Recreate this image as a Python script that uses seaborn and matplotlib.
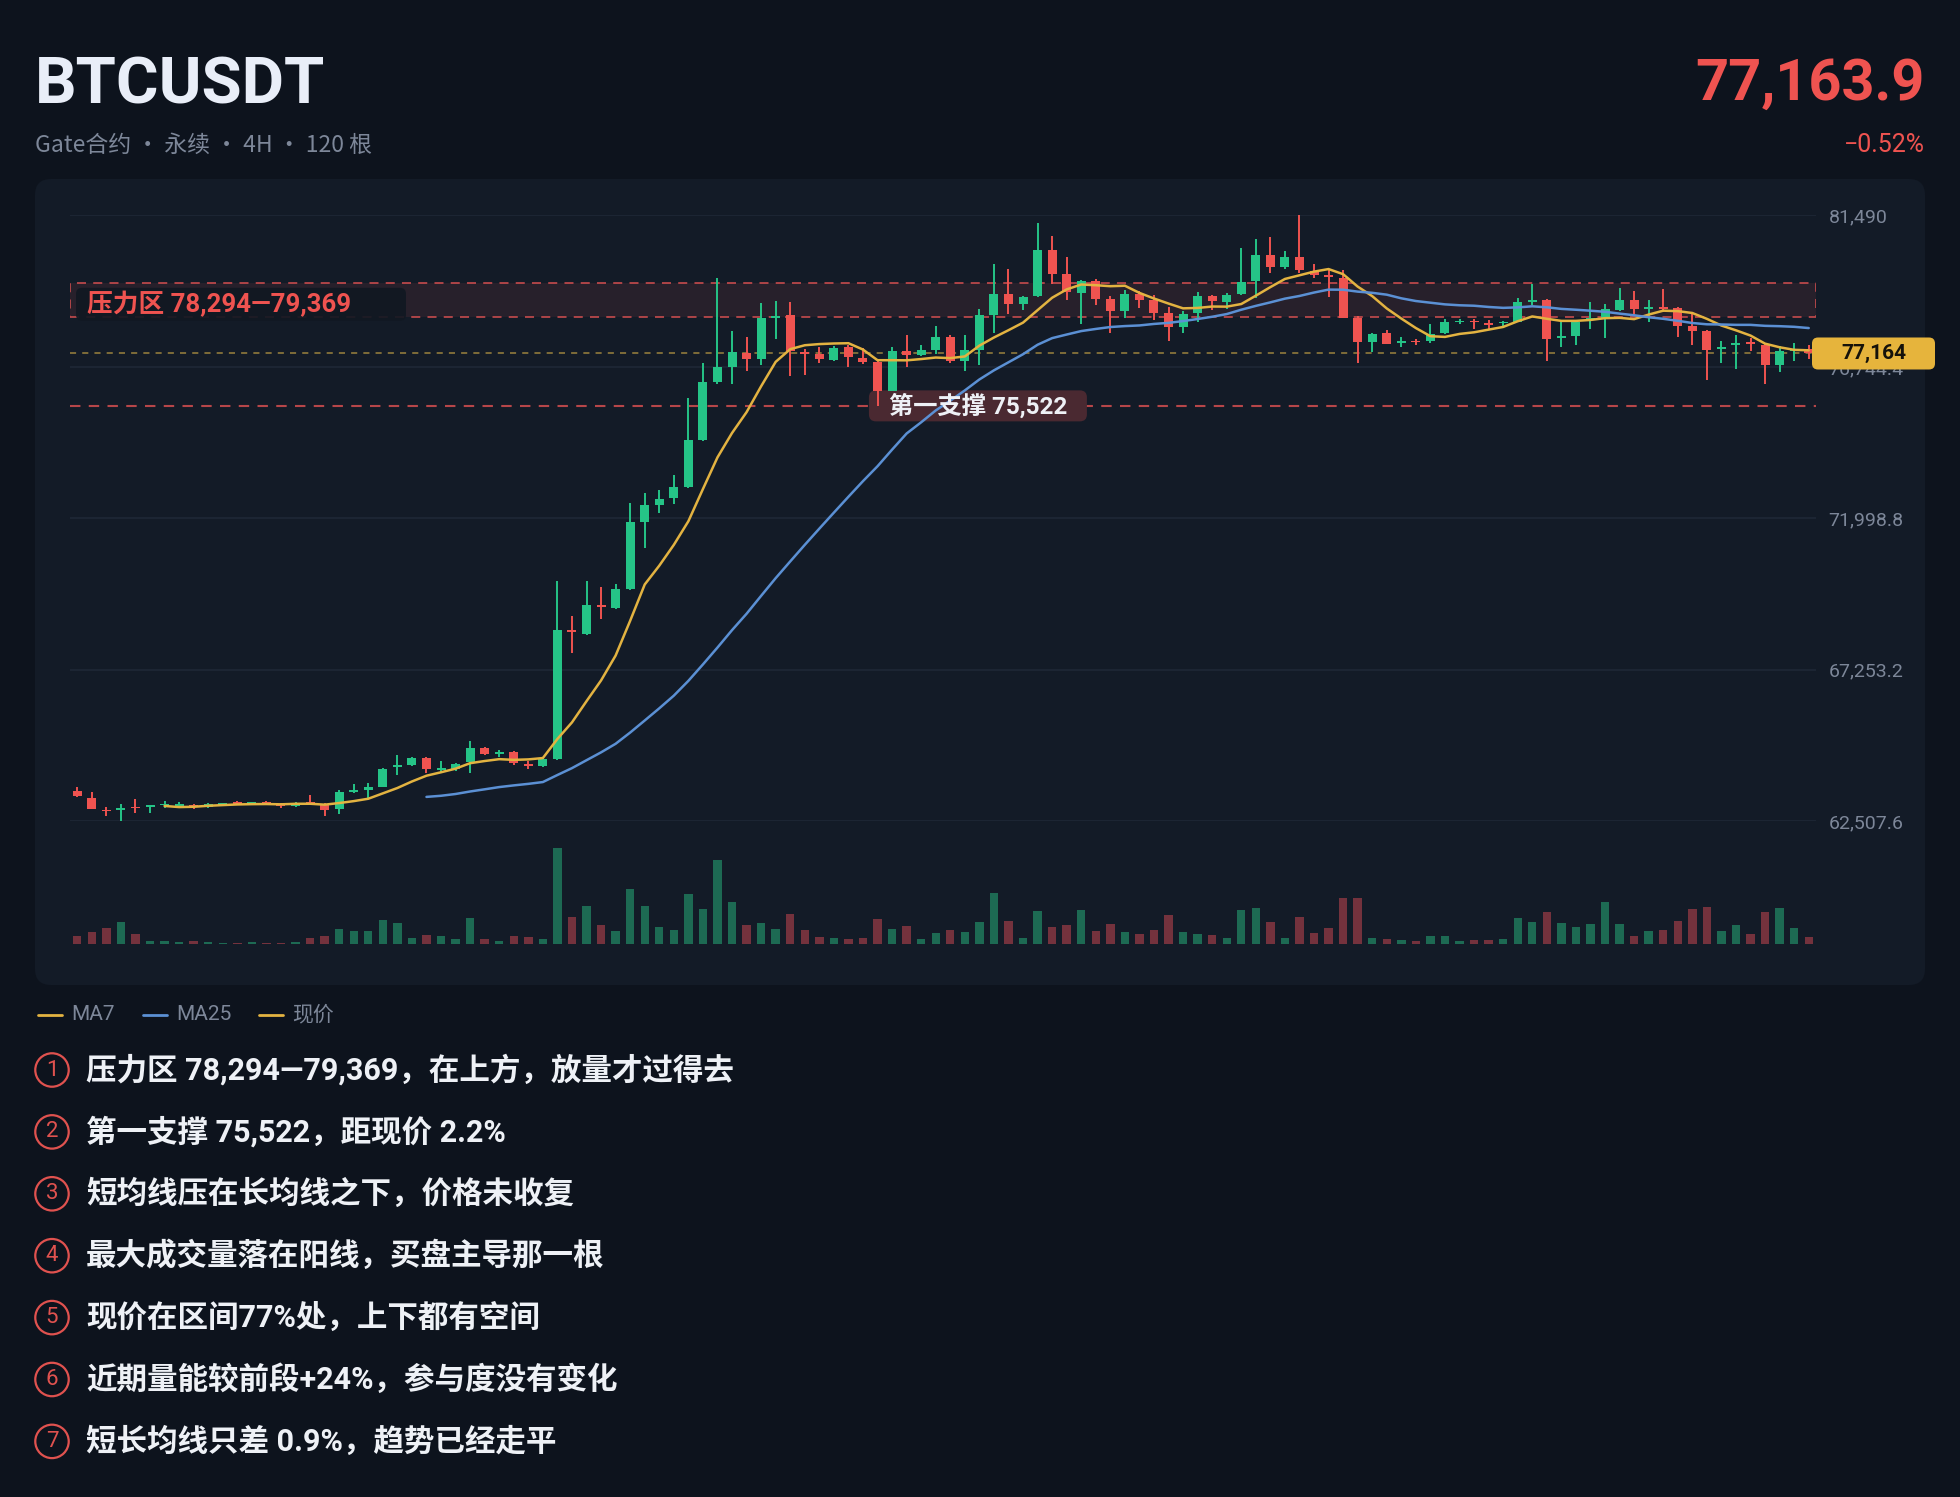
import numpy as np
import pandas as pd
import matplotlib
matplotlib.use("Agg")
import matplotlib.pyplot as plt
import seaborn as sns
from matplotlib.patches import FancyBboxPatch, Rectangle
from matplotlib.lines import Line2D
from matplotlib.transforms import IdentityTransform

# ---- data ----
symbol = "BTCUSDT"
subtitle = "Gate合约 · 永续 · 4H · 120 根"
last_price_text = "77,163.9"
change_text = "\u22120.52%"

opens = [63456, 63239, 62868, 62868, 62957, 62957, 63008, 62970, 63021, 62957,
         63021, 63098, 63047, 63085, 63021, 62970, 63085, 63047, 62893, 63405,
         63494, 63584, 64198, 64262, 64479, 64121, 64134, 64351, 64786, 64607,
         64671, 64287, 64224, 64453, 68483, 68380, 69276, 69173, 69787, 71872,
         72409, 72627, 72985, 74455, 76284, 76732, 77180, 76988, 78292, 78369,
         77218, 77141, 76962, 77372, 77026, 76911, 76003, 77244, 77116, 77282,
         77691, 76924, 77269, 78369, 79034, 78715, 78970, 80416, 79648, 79060,
         79444, 78881, 78497, 79034, 78843, 78420, 77986, 78420, 78971, 78778,
         79034, 79444, 80250, 79866, 80186, 79738, 79635, 79546, 78292, 77525,
         77819, 77500, 77563, 77563, 77819, 78139, 78190, 78101, 78113, 78165,
         78778, 78830, 77653, 77717, 78216, 78267, 78523, 78843, 78548, 78625,
         78587, 78037, 77883, 77308, 77436, 77525, 77436, 76796, 77244, 77295]
highs = [63558, 63430, 62957, 63047, 63200, 63021, 63137, 63098, 63047, 63072,
         63085, 63124, 63085, 63124, 63072, 63098, 63328, 63072, 63494, 63661,
         63712, 64172, 64582, 64505, 64518, 64390, 64326, 65016, 64838, 64748,
         64710, 64377, 64479, 70043, 68930, 70043, 69851, 69953, 72473, 72806,
         72895, 73343, 75760, 76860, 79546, 77858, 77666, 78740, 78817, 78778,
         77308, 77372, 77398, 77436, 77346, 76937, 77372, 77730, 77436, 78011,
         77730, 77755, 78548, 79968, 79802, 78970, 81247, 80863, 80185, 79482,
         79508, 78958, 79162, 79137, 79009, 78625, 78497, 79098, 79009, 79060,
         80467, 80761, 80825, 80378, 81490, 79955, 79802, 79776, 78331, 77819,
         77909, 77691, 77627, 78075, 78241, 78241, 78241, 78203, 78190, 78906,
         79354, 78868, 78139, 78165, 78778, 78715, 79226, 79137, 78843, 79188,
         78625, 78395, 77909, 77564, 77730, 77653, 77474, 77397, 77500, 77436]
lows = [63250, 62880, 62663, 62510, 62765, 62765, 62919, 62957, 62893, 62919,
        62983, 62995, 62995, 63008, 62919, 62957, 63021, 62663, 62727, 63380,
        63239, 63559, 63942, 64236, 64006, 64044, 64070, 64006, 64582, 64518,
        64262, 64134, 64198, 64428, 67779, 68342, 68841, 69148, 69761, 71079,
        72153, 72434, 72959, 74430, 76220, 76195, 76604, 76796, 77627, 76450,
        76502, 76860, 76937, 76732, 76834, 75517, 75978, 76732, 77090, 77141,
        76860, 76630, 76796, 77819, 78395, 78523, 78932, 79354, 78842, 78075,
        78676, 77819, 78267, 78587, 78203, 77563, 77819, 78139, 78523, 78548,
        78996, 78906, 79674, 79828, 79674, 79546, 78945, 78267, 76860, 77218,
        77448, 77372, 77436, 77500, 77781, 78075, 77947, 77947, 78037, 78139,
        78676, 76924, 77372, 77436, 77947, 77653, 78497, 78395, 78139, 78459,
        77691, 77436, 76348, 76860, 76668, 77244, 76195, 76579, 76924, 76988]
closes = [63277, 62893, 62817, 62919, 62906, 63008, 63034, 63034, 62957, 63034,
          63072, 63047, 63072, 63060, 62970, 63072, 63047, 62868, 63405, 63494,
          63584, 64147, 64249, 64479, 64134, 64160, 64287, 64786, 64620, 64658,
          64326, 64236, 64453, 68483, 68419, 69276, 69212, 69787, 71872, 72409,
          72614, 72985, 74455, 76284, 76732, 77218, 76988, 78292, 78343, 77244,
          77141, 76988, 77346, 77052, 76898, 76003, 77244, 77116, 77268, 77678,
          76924, 77269, 78369, 79034, 78715, 78932, 80416, 79648, 79098, 79444,
          78881, 78497, 79034, 78843, 78420, 77986, 78395, 78971, 78804, 79009,
          79418, 80250, 79866, 80186, 79776, 79610, 79571, 78292, 77525, 77781,
          77474, 77563, 77525, 77781, 78139, 78177, 78139, 78062, 78152, 78778,
          78830, 77627, 77717, 78139, 78267, 78548, 78843, 78548, 78625, 78574,
          78037, 77858, 77269, 77372, 77500, 77474, 76796, 77244, 77295, 77164]
volume = [25, 35, 47, 65, 29, 9, 9, 6, 8, 5,
          2, 4, 5, 2, 4, 5, 17, 24, 44, 38,
          39, 71, 64, 19, 28, 25, 16, 77, 14, 10,
          23, 20, 16, 287, 80, 115, 57, 39, 164, 115,
          50, 41, 149, 106, 251, 125, 58, 64, 44, 89,
          41, 21, 17, 15, 17, 74, 44, 55, 16, 32,
          41, 35, 65, 152, 68, 17, 99, 50, 56, 103,
          40, 59, 35, 31, 41, 86, 37, 31, 26, 18,
          103, 109, 65, 19, 82, 32, 47, 139, 139, 19,
          16, 11, 10, 25, 23, 9, 13, 11, 14, 77,
          65, 95, 64, 52, 61, 125, 60, 24, 40, 41,
          69, 104, 111, 38, 56, 31, 97, 107, 47, 22]

y_ticks = [62507.6, 67253.2, 71998.8, 76744.4, 81490.0]
y_tick_labels = ["62,507.6", "67,253.2", "71,998.8", "76,744.4", "81,490"]
resist_lo, resist_hi = 78294, 79369
support = 75522
last_price = 77163.9
notes = [
    "压力区 78,294—79,369，在上方，放量才过得去",
    "第一支撑 75,522，距现价 2.2%",
    "短均线压在长均线之下，价格未收复",
    "最大成交量落在阳线，买盘主导那一根",
    "现价在区间77%处，上下都有空间",
    "近期量能较前段+24%，参与度没有变化",
    "短长均线只差 0.9%，趋势已经走平",
]

# ---- colours ----
BG = "#0d131d"
CARD = "#131b27"
GREEN = "#25c487"
RED = "#ef5350"
VGREEN = "#1d6a53"
VRED = "#74323d"
YELLOW = "#e3b341"
BLUE = "#5b90d4"
GRID = "#1f2937"
MUTED = "#7d8799"
TEXT = "#eef1f6"

df = pd.DataFrame({"idx": np.arange(len(closes)), "open": opens, "high": highs,
                   "low": lows, "close": closes, "volume": volume})
df["dir"] = np.where(df["close"] >= df["open"], "up", "down")
df["ma7"] = df["close"].rolling(7).mean()
df["ma25"] = df["close"].rolling(25).mean()
n = len(df)

sns.set_theme(style="dark", rc={"axes.facecolor": "none", "figure.facecolor": BG})
# Latin glyphs in Roboto, Chinese falls through to Noto Sans CJK
plt.rcParams["font.family"] = ["Roboto", "Noto Sans CJK SC", "DejaVu Sans"]

W, H = 1960, 1497
fig = plt.figure(figsize=(W / 100, H / 100), dpi=100, facecolor=BG)


def fx(px):
    return px / W


def fy(py):
    return 1 - py / H


# chart card
card = FancyBboxPatch((35, H - 985), 1890, 806, boxstyle="round,pad=0,rounding_size=16",
                      fc=CARD, ec="none", transform=IdentityTransform(), zorder=-5)
fig.add_artist(card)

# ---- price panel ----
ax = fig.add_axes([fx(70), fy(821), fx(1746), (821 - 215.5) / H])
for s in ax.spines.values():
    s.set_visible(False)

# resistance zone and reference lines
zone = Rectangle((-0.5, resist_lo), n, resist_hi - resist_lo, fc=(0.88, 0.32, 0.32, 0.10),
                 ec=(0.88, 0.32, 0.32, 0.8), ls=(0, (5, 4)), lw=1.3, zorder=1)
ax.add_patch(zone)
ax.axhline(support, color="#e05252", alpha=0.8, ls=(0, (5, 4)), lw=1.5, zorder=1)
ax.axhline(last_price, color="#c9a646", alpha=0.75, ls=(0, (4, 4)), lw=1.1, zorder=1)

# candles
idx = df["idx"].to_numpy()
o = df["open"].to_numpy()
c = df["close"].to_numpy()
col = np.where(c >= o, GREEN, RED)
ax.vlines(idx, df["low"], df["high"], colors=col, lw=1.4, zorder=3)
body_h = np.maximum(np.abs(c - o), 45)
ax.bar(idx, body_h, bottom=np.minimum(o, c), width=0.62, color=col, lw=0, zorder=4)

sns.lineplot(data=df, x="idx", y="ma7", color=YELLOW, lw=1.8, ax=ax, zorder=5)
sns.lineplot(data=df, x="idx", y="ma25", color=BLUE, lw=1.8, ax=ax, zorder=5)
ax.set_xlabel("")
ax.set_ylabel("")
ax.set_xlim(-0.5, n - 0.5)
ax.set_ylim(y_ticks[0], y_ticks[-1])
ax.set_yticks(y_ticks)
ax.set_yticklabels(y_tick_labels)
ax.yaxis.tick_right()
ax.tick_params(axis="y", length=0, pad=9, labelcolor=MUTED, labelsize=14)
ax.set_xticks([])
ax.grid(axis="y", color=GRID, lw=1.1)
ax.grid(axis="x", visible=False)

# labels on the price panel (box positions in display pixels)
fig.canvas.draw()
ax_x0 = ax.transAxes.transform((0, 0))[0]
zone_mid = (resist_lo + resist_hi) / 2
_, zmid = ax.transData.transform((0, zone_mid))
zmid -= 4
rb = FancyBboxPatch((ax_x0 + 6, zmid - 16.5), 330, 33, boxstyle="round,pad=0,rounding_size=6",
                    fc="#111822", ec="none", alpha=0.92, transform=IdentityTransform(), zorder=6)
ax.add_artist(rb)
fig.text((ax_x0 + 17) / W, zmid / H, "压力区 78,294—79,369", ha="left", va="center",
         color=RED, fontsize=18.5, weight="bold", zorder=7)

support_label_x = 61.9
sx, sy = ax.transData.transform((support_label_x, support))
sb = FancyBboxPatch((sx - 109, sy - 15.5), 218, 31, boxstyle="round,pad=0,rounding_size=7",
                    fc="#4a2931", ec="none", transform=IdentityTransform(), zorder=2)
ax.add_artist(sb)
ax.text(support_label_x, support, "第一支撑 75,522", ha="center", va="center", color=TEXT,
        fontsize=17.5, weight="bold", zorder=7)

# last price tag
ax_x1 = ax.transAxes.transform((1, 0))[0]
_, ly = ax.transData.transform((0, last_price))
tag = FancyBboxPatch((ax_x1 - 4, ly - 16), 123, 32, boxstyle="round,pad=0,rounding_size=6",
                     fc="#e6b43c", ec="none", transform=IdentityTransform(), zorder=20)
fig.add_artist(tag)
fig.text((ax_x1 - 4 + 61.5) / W, ly / H, f"{last_price:,.0f}", ha="center", va="center",
         color="#15120a", fontsize=15, weight="bold", zorder=21)

# ---- volume panel ----
axv = fig.add_axes([fx(70), fy(944), fx(1746), 96 / H])
sns.barplot(data=df, x="idx", y="volume", hue="dir", palette={"up": VGREEN, "down": VRED},
            hue_order=["up", "down"], dodge=False, legend=False, width=0.58, saturation=1,
            errorbar=None, linewidth=0, ax=axv)
axv.set_xlim(-0.5, n - 0.5)
axv.set_ylim(0, max(volume))
axv.axis("off")

# ---- header ----
fig.text(fx(35), fy(103), symbol, ha="left", va="baseline", fontsize=47, weight="bold", color="#e9eef8")
fig.text(fx(35), fy(145), subtitle, ha="left", va="center", fontsize=16.5, color=MUTED,
         family=["Noto Sans CJK SC", "DejaVu Sans"])
fig.text(fx(1925), fy(100), last_price_text, ha="right", va="baseline", fontsize=41.5, weight="bold", color=RED)
fig.text(fx(1925), fy(145), change_text, ha="right", va="center", fontsize=18, color=RED)

# ---- legend ----
legend_items = [("MA7", YELLOW, 38), ("MA25", BLUE, 143), ("现价", YELLOW, 259)]
for label, color, x0 in legend_items:
    fig.add_artist(Line2D([fx(x0), fx(x0 + 24)], [fy(1015), fy(1015)], color=color, lw=2,
                          transform=fig.transFigure))
    fig.text(fx(x0 + 33), fy(1015), label, ha="left", va="center", fontsize=15, color=MUTED)

# ---- notes ----
for k, note in enumerate(notes):
    y = 1070 + 61.9 * k
    fig.text(fx(52), fy(y), str(k + 1), ha="center", va="center", fontsize=16, color="#e0524f",
             bbox=dict(boxstyle="circle,pad=0.28", fc="none", ec="#e0524f", lw=1.6))
    fig.text(fx(86), fy(y), note, ha="left", va="center", fontsize=22, weight="bold", color=TEXT)

fig.savefig("out.png", dpi=100, facecolor=BG)
